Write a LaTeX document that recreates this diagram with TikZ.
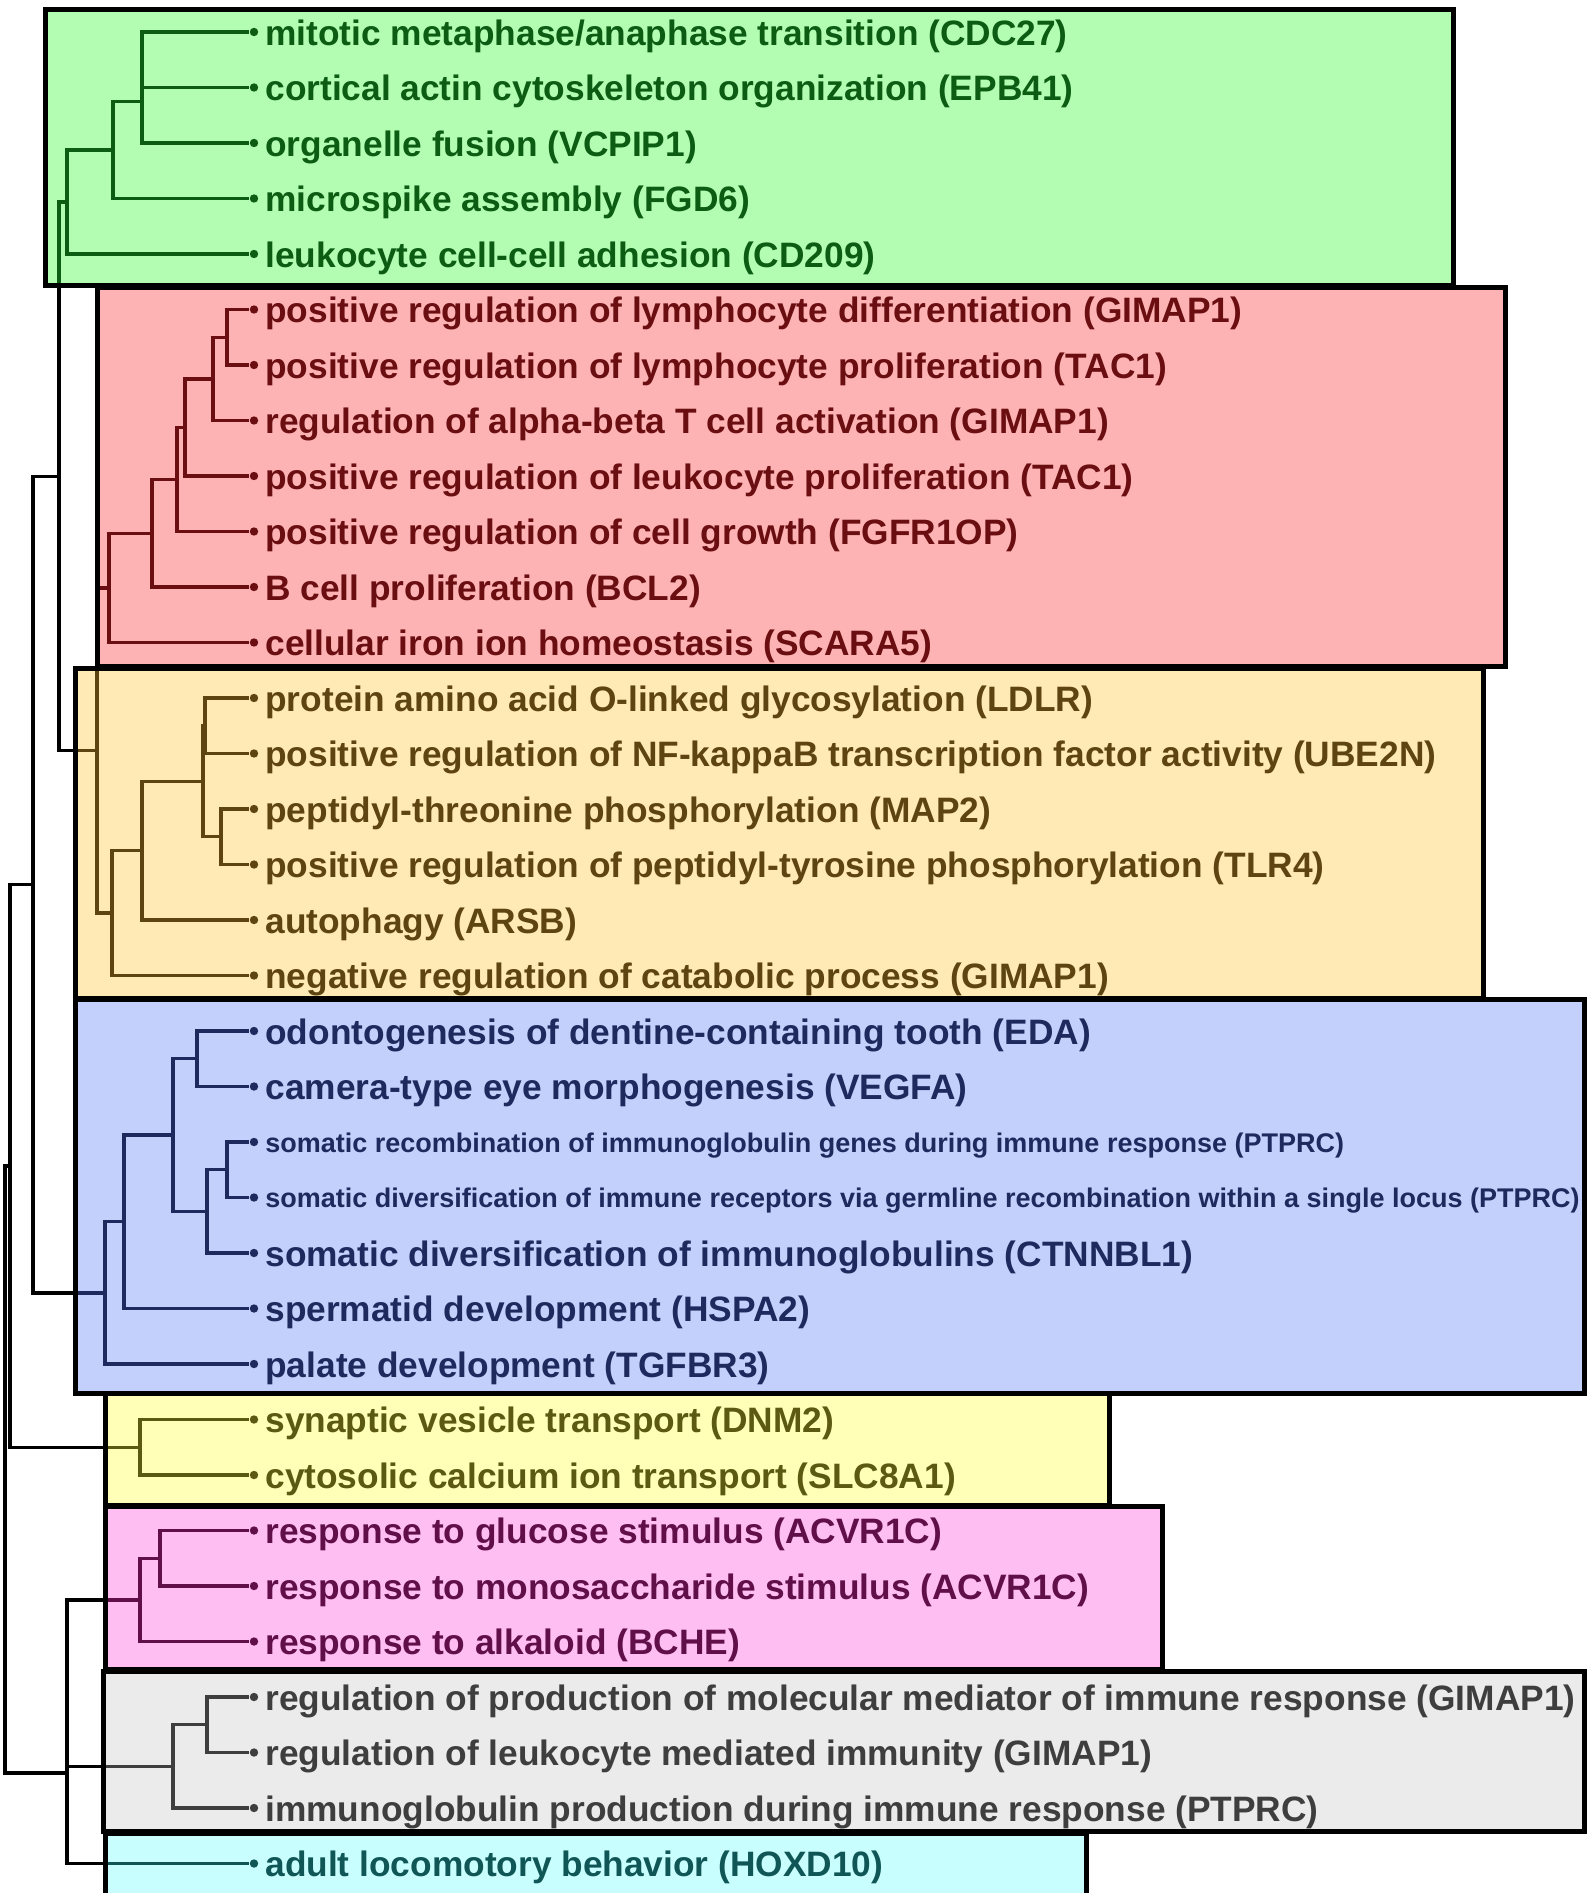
\documentclass[tikz,border=0pt]{standalone}
\usepackage{fontspec}
\setmainfont{Liberation Sans}
\definecolor{gtxt}{HTML}{0C5C14}
\definecolor{rtxt}{HTML}{6A0E12}
\definecolor{otxt}{HTML}{5E4410}
\definecolor{btxt}{HTML}{1E2A5E}
\definecolor{ytxt}{HTML}{5C5A12}
\definecolor{ptxt}{HTML}{600F48}
\definecolor{grtxt}{HTML}{3E3E3E}
\definecolor{ctxt}{HTML}{105656}
\definecolor{gfill}{HTML}{B3FDB3}
\definecolor{rfill}{HTML}{FDB3B3}
\definecolor{ofill}{HTML}{FFE9B5}
\definecolor{bfill}{HTML}{C3D0FB}
\definecolor{yfill}{HTML}{FFFFB8}
\definecolor{pfill}{HTML}{FFBEF1}
\definecolor{grfill}{HTML}{EBEBEB}
\definecolor{cfill}{HTML}{C8FEFE}
\newcommand\bigtxt{\fontsize{17.65}{20}\selectfont\bfseries}
\newcommand\smalltxt{\fontsize{13.5}{16}\selectfont\bfseries}
\tikzset{
  dot/.style={circle, inner sep=0pt, minimum size=4.2pt},
  bigl/.style={anchor=base west, inner sep=0pt, yshift=-6.7pt, font=\bigtxt},
  smalll/.style={anchor=base west, inner sep=0pt, yshift=-5pt, font=\smalltxt},
  edge/.style={line width=1.65pt},
  boxline/.style={draw=black, line width=2.5pt},
}
\newcommand\lf[5]{\node[dot,fill=#3] (#1) at (254,#2) {};
  \node[#4,text=#3] (#1t) at (265,#2) {#5};}
\newcommand\ed[2]{\draw[edge] (#1) |- (#2);}
\newcommand\treeedges{%
  \ed{g1a}{L0}\ed{g1a}{L1}\ed{g1}{g1a}\ed{g1}{L2}\ed{g2}{g1}\ed{g2}{L3}
  \ed{g3}{g2}\ed{g3}{L4}\ed{b1}{g3}\ed{b1}{ro}
  \ed{r1}{L5}\ed{r1}{L6}\ed{r2}{r1}\ed{r2}{L7}\ed{r3}{r2}\ed{r3}{L8}
  \ed{r4}{r3}\ed{r4}{L9}\ed{r5}{r4}\ed{r5}{L10}\ed{r6}{r5}\ed{r6}{L11}
  \ed{ro}{r6}\ed{ro}{o5}
  \ed{o1}{L12}\ed{o1}{L13}\ed{o2}{L14}\ed{o2}{L15}\ed{o3}{o1}\ed{o3}{o2}
  \ed{o4}{o3}\ed{o4}{L16}\ed{o5}{o4}\ed{o5}{L17}
  \ed{b2}{b1}\ed{b2}{bl6}
  \ed{bl1}{L18}\ed{bl1}{L19}\ed{bl2}{L20}\ed{bl2}{L21}\ed{bl3}{bl2}\ed{bl3}{L22}
  \ed{bl4}{bl1}\ed{bl4}{bl3}\ed{bl5}{bl4}\ed{bl5}{L23}\ed{bl6}{bl5}\ed{bl6}{L24}
  \ed{b3}{b2}\ed{b3}{y1}\ed{y1}{L25}\ed{y1}{L26}
  \ed{b5}{b3}\ed{b5}{b4}\ed{b4}{b4a}\ed{b4}{L33}\ed{b4a}{p2}\ed{b4a}{gr2}
  \ed{p1}{L27}\ed{p1}{L28}\ed{p2}{p1}\ed{p2}{L29}
  \ed{gr1}{L30}\ed{gr1}{L31}\ed{gr2}{gr1}\ed{gr2}{L32}}
\newcommand\boxclip[2]{\begin{scope}\clip #1;\begin{scope}[color=#2]\treeedges\end{scope}\end{scope}}
\begin{document}
\begin{tikzpicture}[x=0.5pt,y=-0.5pt]
\useasboundingbox (0,0) rectangle (1586,1893);
% box fills
\def\bgreen{(45,10) rectangle (1453,286)}
\def\bred{(97,288) rectangle (1505,666)}
\def\borange{(75,668) rectangle (1483,998)}
\def\bblue{(75,999) rectangle (1584,1393)}
\def\byellow{(105,1393) rectangle (1109,1505)}
\def\bpink{(105,1506) rectangle (1162,1669)}
\def\bgray{(103,1671) rectangle (1584,1831)}
\def\bcyan{(105,1833) rectangle (1086,1905)}
\fill[gfill] \bgreen; \fill[rfill] \bred; \fill[ofill] \borange; \fill[bfill] \bblue;
\fill[yfill] \byellow; \fill[pfill] \bpink; \fill[grfill] \bgray; \fill[cfill] \bcyan;
% leaves
\lf{L0}{32}{gtxt}{bigl}{mitotic metaphase/anaphase transition (CDC27)}
\lf{L1}{87.5}{gtxt}{bigl}{cortical actin cytoskeleton organization (EPB41)}
\lf{L2}{143}{gtxt}{bigl}{organelle fusion (VCPIP1)}
\lf{L3}{198.5}{gtxt}{bigl}{microspike assembly (FGD6)}
\lf{L4}{254}{gtxt}{bigl}{leukocyte cell-cell adhesion (CD209)}
\lf{L5}{309.5}{rtxt}{bigl}{positive regulation of lymphocyte differentiation (GIMAP1)}
\lf{L6}{365}{rtxt}{bigl}{positive regulation of lymphocyte proliferation (TAC1)}
\lf{L7}{420.5}{rtxt}{bigl}{regulation of alpha-beta T cell activation (GIMAP1)}
\lf{L8}{476}{rtxt}{bigl}{positive regulation of leukocyte proliferation (TAC1)}
\lf{L9}{531.5}{rtxt}{bigl}{positive regulation of cell growth (FGFR1OP)}
\lf{L10}{587}{rtxt}{bigl}{B cell proliferation (BCL2)}
\lf{L11}{642.5}{rtxt}{bigl}{cellular iron ion homeostasis (SCARA5)}
\lf{L12}{698}{otxt}{bigl}{protein amino acid O-linked glycosylation (LDLR)}
\lf{L13}{753.5}{otxt}{bigl}{positive regulation of NF-kappaB transcription factor activity (UBE2N)}
\lf{L14}{809}{otxt}{bigl}{peptidyl-threonine phosphorylation (MAP2)}
\lf{L15}{864.5}{otxt}{bigl}{positive regulation of peptidyl-tyrosine phosphorylation (TLR4)}
\lf{L16}{920}{otxt}{bigl}{autophagy (ARSB)}
\lf{L17}{975.5}{otxt}{bigl}{negative regulation of catabolic process (GIMAP1)}
\lf{L18}{1031}{btxt}{bigl}{odontogenesis of dentine-containing tooth (EDA)}
\lf{L19}{1086.5}{btxt}{bigl}{camera-type eye morphogenesis (VEGFA)}
\lf{L20}{1142}{btxt}{smalll}{somatic recombination of immunoglobulin genes during immune response (PTPRC)}
\lf{L21}{1197.5}{btxt}{smalll}{somatic diversification of immune receptors via germline recombination within a single locus (PTPRC)}
\lf{L22}{1253}{btxt}{bigl}{somatic diversification of immunoglobulins (CTNNBL1)}
\lf{L23}{1308.5}{btxt}{bigl}{spermatid development (HSPA2)}
\lf{L24}{1364}{btxt}{bigl}{palate development (TGFBR3)}
\lf{L25}{1419.5}{ytxt}{bigl}{synaptic vesicle transport (DNM2)}
\lf{L26}{1475}{ytxt}{bigl}{cytosolic calcium ion transport (SLC8A1)}
\lf{L27}{1530.5}{ptxt}{bigl}{response to glucose stimulus (ACVR1C)}
\lf{L28}{1586}{ptxt}{bigl}{response to monosaccharide stimulus (ACVR1C)}
\lf{L29}{1641.5}{ptxt}{bigl}{response to alkaloid (BCHE)}
\lf{L30}{1697}{grtxt}{bigl}{regulation of production of molecular mediator of immune response (GIMAP1)}
\lf{L31}{1752.5}{grtxt}{bigl}{regulation of leukocyte mediated immunity (GIMAP1)}
\lf{L32}{1808}{grtxt}{bigl}{immunoglobulin production during immune response (PTPRC)}
\lf{L33}{1863.5}{ctxt}{bigl}{adult locomotory behavior (HOXD10)}
% internal nodes
\coordinate (g1a) at (142,59.75);
\coordinate (g1) at (142,101.4);
\coordinate (g2) at (113,150);
\coordinate (g3) at (67,202);
\coordinate (r1) at (227,337.25);
\coordinate (r2) at (213,378.9);
\coordinate (r3) at (185,427.4);
\coordinate (r4) at (177,479.5);
\coordinate (r5) at (152,533.2);
\coordinate (r6) at (109,587.9);
\coordinate (o1) at (205,725.75);
\coordinate (o2) at (221,836.75);
\coordinate (o3) at (203,781.25);
\coordinate (o4) at (142,850.6);
\coordinate (o5) at (112,913);
\coordinate (ro) at (97,750.5);
\coordinate (b1) at (59,476.3);
\coordinate (bl1) at (197,1058.75);
\coordinate (bl2) at (227,1169.75);
\coordinate (bl3) at (207,1211.4);
\coordinate (bl4) at (173,1135);
\coordinate (bl5) at (124,1221.75);
\coordinate (bl6) at (105,1292.9);
\coordinate (b2) at (33,884.6);
\coordinate (y1) at (140,1447.25);
\coordinate (b3) at (10,1166);
\coordinate (p1) at (160,1558.25);
\coordinate (p2) at (140,1599.9);
\coordinate (gr1) at (207,1724.75);
\coordinate (gr2) at (173,1766.4);
\coordinate (b4a) at (67,1683);
\coordinate (b4) at (67,1773);
\coordinate (b5) at (5,1469.5);
% tree in black, then recoloured inside each box
\begin{scope}[color=black]\treeedges\end{scope}
\boxclip{\bgreen}{gtxt}
\boxclip{\bred}{rtxt}
\boxclip{\borange}{otxt}
\boxclip{\bblue}{btxt}
\boxclip{\byellow}{ytxt}
\boxclip{\bpink}{ptxt}
\boxclip{\bgray}{grtxt}
\boxclip{\bcyan}{ctxt}
% box borders
\draw[boxline] \bgreen; \draw[boxline] \bred; \draw[boxline] \borange; \draw[boxline] \bblue;
\draw[boxline] \byellow; \draw[boxline] \bpink; \draw[boxline] \bgray; \draw[boxline] \bcyan;
\end{tikzpicture}
\end{document}
